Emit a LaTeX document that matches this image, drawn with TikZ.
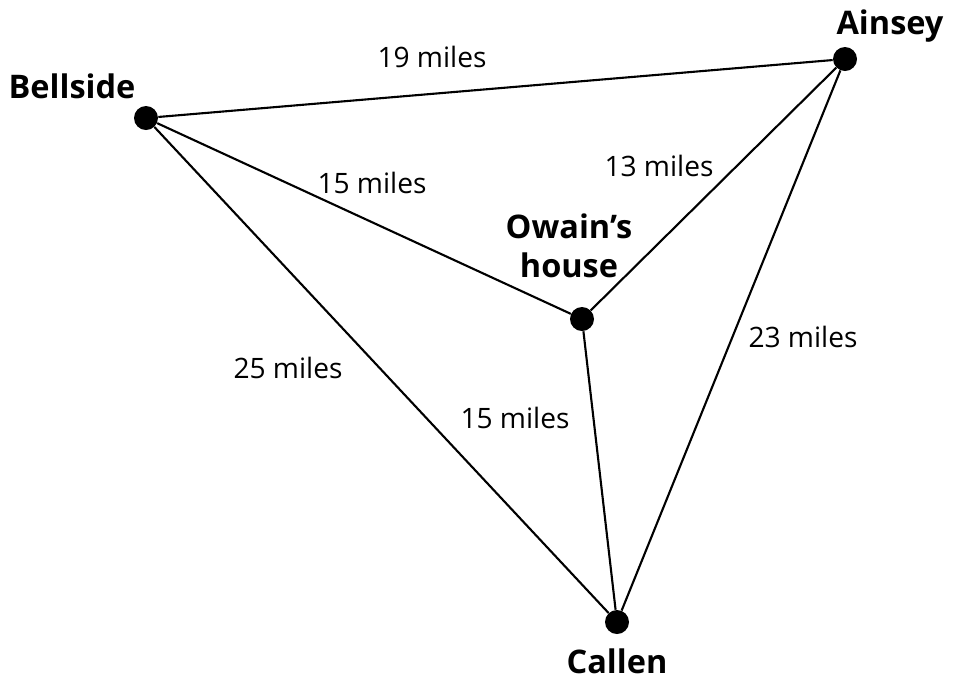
\documentclass[tikz,border=0pt]{standalone}
\usepackage{fontspec}
\setmainfont{Open Sans}
\tikzset{
  town/.style={fill=black,circle,inner sep=0pt,minimum size=0.48cm},
  place/.style={font=\fontsize{18.5}{22}\selectfont\bfseries,align=center},
  dist/.style={font=\fontsize{16}{19}\selectfont},
  road/.style={line width=1.2pt}
}
\begin{document}
\begin{tikzpicture}[x=0.02cm,y=-0.02cm]
            \useasboundingbox (0,0) rectangle (964,681);
            \node[town] (B) at (146,118) {};
            \node[town] (A) at (845,59) {};
            \node[town] (O) at (582,319) {};
            \node[town] (C) at (617,622) {};
            \draw[road] (B) -- (A);
            \draw[road] (B) -- (O);
            \draw[road] (B) -- (C);
            \draw[road] (O) -- (A);
            \draw[road] (O) -- (C);
            \draw[road] (A) -- (C);
            \node[place] (Bname) at (72,86) {Bellside};
            \node[place] (Aname) at (890,26) {Ainsey};
            \node[place] (Oname) at (569,246) {Owain’s\\house};
            \node[place] (Cname) at (617,661) {Callen};
            \node[dist] (BA) at (432,57) {19 miles};
            \node[dist] (BO) at (372,183) {15 miles};
            \node[dist] (OA) at (659,166) {13 miles};
            \node[dist] (BC) at (288,368) {25 miles};
            \node[dist] (OC) at (515,418) {15 miles};
            \node[dist] (AC) at (803,337) {23 miles};
    \end{tikzpicture}
\end{document}
